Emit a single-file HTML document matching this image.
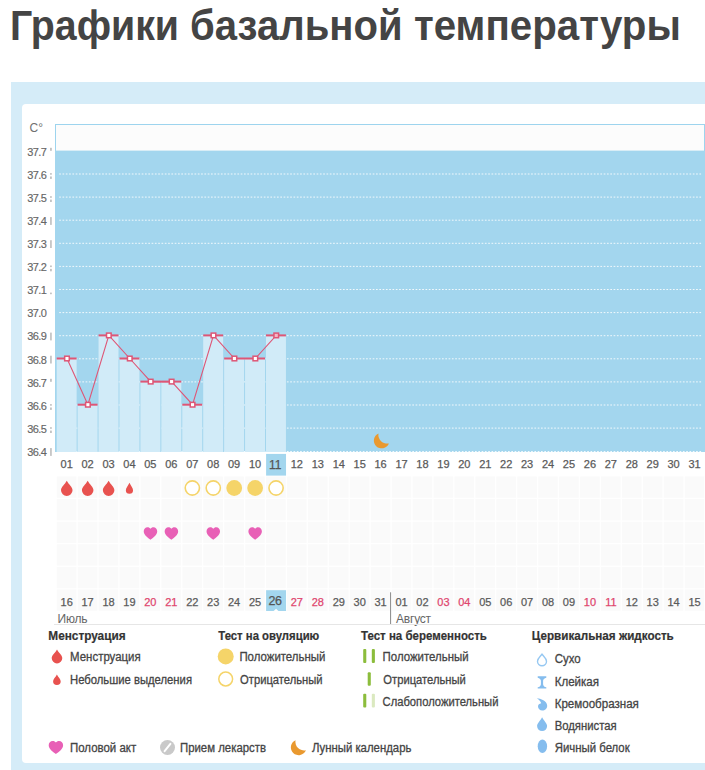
<!DOCTYPE html>
<html lang="ru"><head><meta charset="utf-8"><title>Графики базальной температуры</title>
<style>
html,body{margin:0;padding:0}
body{width:705px;height:770px;overflow:hidden;background:#fff;position:relative;font-family:"Liberation Sans","Noto Sans CJK SC",sans-serif}
h1{position:absolute;left:0;top:0;margin:0;font-size:43px;font-weight:bold;color:#444;white-space:nowrap}
h1 span{position:absolute;top:1px;transform-origin:0 0;line-height:normal}
#outer{position:absolute;left:11px;top:82px;width:720px;height:700px;background:#d5ecf8}
#panel{position:absolute;left:22px;top:104px;width:720px;height:658.6px;background:#fff;border-radius:4px}
svg{position:absolute;left:0;top:0}
svg text{font-family:"Liberation Sans","Noto Sans CJK SC",sans-serif}
</style></head><body>
<h1><span style="left:10.3px;transform:scaleX(0.914)">Графики</span> <span style="left:190.3px;transform:scaleX(0.932)">базальной</span> <span style="left:413.8px;transform:scaleX(0.937)">температуры</span></h1>
<div id="outer"></div>
<div id="panel"></div>
<svg width="705" height="770" viewBox="0 0 705 770">
<rect x="55.5" y="124.5" width="649" height="30" fill="#fcfcfc" stroke="#9dd4ee" stroke-width="1"/>
<rect x="55" y="150.6" width="650" height="301.4" fill="#a3d6ee"/>
<line x1="59.2" y1="174.0" x2="702.5" y2="174.0" stroke="#fff" stroke-opacity="0.85" stroke-width="1" stroke-dasharray="1.7 1.6"/>
<line x1="59.2" y1="197.1" x2="702.5" y2="197.1" stroke="#fff" stroke-opacity="0.85" stroke-width="1" stroke-dasharray="1.7 1.6"/>
<line x1="59.2" y1="220.2" x2="702.5" y2="220.2" stroke="#fff" stroke-opacity="0.85" stroke-width="1" stroke-dasharray="1.7 1.6"/>
<line x1="59.2" y1="243.3" x2="702.5" y2="243.3" stroke="#fff" stroke-opacity="0.85" stroke-width="1" stroke-dasharray="1.7 1.6"/>
<line x1="59.2" y1="266.4" x2="702.5" y2="266.4" stroke="#fff" stroke-opacity="0.85" stroke-width="1" stroke-dasharray="1.7 1.6"/>
<line x1="59.2" y1="289.5" x2="702.5" y2="289.5" stroke="#fff" stroke-opacity="0.85" stroke-width="1" stroke-dasharray="1.7 1.6"/>
<line x1="59.2" y1="312.6" x2="702.5" y2="312.6" stroke="#fff" stroke-opacity="0.85" stroke-width="1" stroke-dasharray="1.7 1.6"/>
<line x1="59.2" y1="335.7" x2="702.5" y2="335.7" stroke="#fff" stroke-opacity="0.85" stroke-width="1" stroke-dasharray="1.7 1.6"/>
<line x1="59.2" y1="358.8" x2="702.5" y2="358.8" stroke="#fff" stroke-opacity="0.85" stroke-width="1" stroke-dasharray="1.7 1.6"/>
<line x1="59.2" y1="381.9" x2="702.5" y2="381.9" stroke="#fff" stroke-opacity="0.85" stroke-width="1" stroke-dasharray="1.7 1.6"/>
<line x1="59.2" y1="405.0" x2="702.5" y2="405.0" stroke="#fff" stroke-opacity="0.85" stroke-width="1" stroke-dasharray="1.7 1.6"/>
<line x1="59.2" y1="428.1" x2="702.5" y2="428.1" stroke="#fff" stroke-opacity="0.85" stroke-width="1" stroke-dasharray="1.7 1.6"/>
<line x1="59.2" y1="451.5" x2="702.5" y2="451.5" stroke="#fff" stroke-opacity="0.85" stroke-width="1" stroke-dasharray="1.7 1.6"/>
<rect x="56.70" y="358.5" width="19.93" height="93.5" fill="#d1ebf8"/>
<rect x="77.63" y="404.7" width="19.93" height="47.3" fill="#d1ebf8"/>
<rect x="98.56" y="335.4" width="19.93" height="116.6" fill="#d1ebf8"/>
<rect x="119.49" y="358.5" width="19.93" height="93.5" fill="#d1ebf8"/>
<rect x="140.42" y="381.6" width="19.93" height="70.4" fill="#d1ebf8"/>
<rect x="161.35" y="381.6" width="19.93" height="70.4" fill="#d1ebf8"/>
<rect x="182.28" y="404.7" width="19.93" height="47.3" fill="#d1ebf8"/>
<rect x="203.21" y="335.4" width="19.93" height="116.6" fill="#d1ebf8"/>
<rect x="224.14" y="358.5" width="19.93" height="93.5" fill="#d1ebf8"/>
<rect x="245.07" y="358.5" width="19.93" height="93.5" fill="#d1ebf8"/>
<rect x="266.00" y="335.4" width="19.93" height="116.6" fill="#d1ebf8"/>
<line x1="56.70" y1="358.5" x2="76.63" y2="358.5" stroke="#de5676" stroke-width="2"/>
<line x1="77.63" y1="404.7" x2="97.56" y2="404.7" stroke="#de5676" stroke-width="2"/>
<line x1="98.56" y1="335.4" x2="118.49" y2="335.4" stroke="#de5676" stroke-width="2"/>
<line x1="119.49" y1="358.5" x2="139.42" y2="358.5" stroke="#de5676" stroke-width="2"/>
<line x1="140.42" y1="381.6" x2="161.35" y2="381.6" stroke="#de5676" stroke-width="2"/>
<line x1="161.35" y1="381.6" x2="181.28" y2="381.6" stroke="#de5676" stroke-width="2"/>
<line x1="182.28" y1="404.7" x2="202.21" y2="404.7" stroke="#de5676" stroke-width="2"/>
<line x1="203.21" y1="335.4" x2="223.14" y2="335.4" stroke="#de5676" stroke-width="2"/>
<line x1="224.14" y1="358.5" x2="245.07" y2="358.5" stroke="#de5676" stroke-width="2"/>
<line x1="245.07" y1="358.5" x2="265.00" y2="358.5" stroke="#de5676" stroke-width="2"/>
<line x1="266.00" y1="335.4" x2="285.93" y2="335.4" stroke="#de5676" stroke-width="2"/>
<polyline points="66.97,358.5 87.89,404.7 108.83,335.4 129.75,358.5 150.69,381.6 171.62,381.6 192.55,404.7 213.48,335.4 234.41,358.5 255.34,358.5 276.26,335.4" fill="none" stroke="#de5676" stroke-width="1.1"/>
<rect x="64.67" y="356.2" width="4.6" height="4.6" fill="#fff" stroke="#de5676" stroke-width="1.5"/>
<rect x="85.59" y="402.4" width="4.6" height="4.6" fill="#fff" stroke="#de5676" stroke-width="1.5"/>
<rect x="106.53" y="333.1" width="4.6" height="4.6" fill="#fff" stroke="#de5676" stroke-width="1.5"/>
<rect x="127.45" y="356.2" width="4.6" height="4.6" fill="#fff" stroke="#de5676" stroke-width="1.5"/>
<rect x="148.38" y="379.3" width="4.6" height="4.6" fill="#fff" stroke="#de5676" stroke-width="1.5"/>
<rect x="169.31" y="379.3" width="4.6" height="4.6" fill="#fff" stroke="#de5676" stroke-width="1.5"/>
<rect x="190.25" y="402.4" width="4.6" height="4.6" fill="#fff" stroke="#de5676" stroke-width="1.5"/>
<rect x="211.18" y="333.1" width="4.6" height="4.6" fill="#fff" stroke="#de5676" stroke-width="1.5"/>
<rect x="232.11" y="356.2" width="4.6" height="4.6" fill="#fff" stroke="#de5676" stroke-width="1.5"/>
<rect x="253.04" y="356.2" width="4.6" height="4.6" fill="#fff" stroke="#de5676" stroke-width="1.5"/>
<rect x="273.96" y="333.1" width="4.6" height="4.6" fill="#f4b8c6" stroke="#de5676" stroke-width="1.5"/>
<path transform="translate(0.00,0.00)" d="M378.5,433.4 A7.8,7.8 0 1 0 388.9,443.4 A8.7,8.7 0 0 1 378.5,433.4 Z" fill="#e9992f"/>
<rect x="56.80" y="476.50" width="19.63" height="21.30" fill="#fafafa"/>
<rect x="77.73" y="476.50" width="19.63" height="21.30" fill="#fafafa"/>
<rect x="98.66" y="476.50" width="19.63" height="21.30" fill="#fafafa"/>
<rect x="119.59" y="476.50" width="19.63" height="21.30" fill="#fafafa"/>
<rect x="140.52" y="476.50" width="19.63" height="21.30" fill="#fafafa"/>
<rect x="161.45" y="476.50" width="19.63" height="21.30" fill="#fafafa"/>
<rect x="182.38" y="476.50" width="19.63" height="21.30" fill="#fafafa"/>
<rect x="203.31" y="476.50" width="19.63" height="21.30" fill="#fafafa"/>
<rect x="224.24" y="476.50" width="19.63" height="21.30" fill="#fafafa"/>
<rect x="245.17" y="476.50" width="19.63" height="21.30" fill="#fafafa"/>
<rect x="266.10" y="476.50" width="19.63" height="21.30" fill="#fafafa"/>
<rect x="287.03" y="476.50" width="19.63" height="21.30" fill="#fafafa"/>
<rect x="307.96" y="476.50" width="19.63" height="21.30" fill="#fafafa"/>
<rect x="328.89" y="476.50" width="19.63" height="21.30" fill="#fafafa"/>
<rect x="349.82" y="476.50" width="19.63" height="21.30" fill="#fafafa"/>
<rect x="370.75" y="476.50" width="19.63" height="21.30" fill="#fafafa"/>
<rect x="391.68" y="476.50" width="19.63" height="21.30" fill="#fafafa"/>
<rect x="412.61" y="476.50" width="19.63" height="21.30" fill="#fafafa"/>
<rect x="433.54" y="476.50" width="19.63" height="21.30" fill="#fafafa"/>
<rect x="454.47" y="476.50" width="19.63" height="21.30" fill="#fafafa"/>
<rect x="475.40" y="476.50" width="19.63" height="21.30" fill="#fafafa"/>
<rect x="496.33" y="476.50" width="19.63" height="21.30" fill="#fafafa"/>
<rect x="517.26" y="476.50" width="19.63" height="21.30" fill="#fafafa"/>
<rect x="538.19" y="476.50" width="19.63" height="21.30" fill="#fafafa"/>
<rect x="559.12" y="476.50" width="19.63" height="21.30" fill="#fafafa"/>
<rect x="580.05" y="476.50" width="19.63" height="21.30" fill="#fafafa"/>
<rect x="600.98" y="476.50" width="19.63" height="21.30" fill="#fafafa"/>
<rect x="621.91" y="476.50" width="19.63" height="21.30" fill="#fafafa"/>
<rect x="642.84" y="476.50" width="19.63" height="21.30" fill="#fafafa"/>
<rect x="663.77" y="476.50" width="19.63" height="21.30" fill="#fafafa"/>
<rect x="684.70" y="476.50" width="19.63" height="21.30" fill="#fafafa"/>
<rect x="56.80" y="499.10" width="19.63" height="21.30" fill="#fafafa"/>
<rect x="77.73" y="499.10" width="19.63" height="21.30" fill="#fafafa"/>
<rect x="98.66" y="499.10" width="19.63" height="21.30" fill="#fafafa"/>
<rect x="119.59" y="499.10" width="19.63" height="21.30" fill="#fafafa"/>
<rect x="140.52" y="499.10" width="19.63" height="21.30" fill="#fafafa"/>
<rect x="161.45" y="499.10" width="19.63" height="21.30" fill="#fafafa"/>
<rect x="182.38" y="499.10" width="19.63" height="21.30" fill="#fafafa"/>
<rect x="203.31" y="499.10" width="19.63" height="21.30" fill="#fafafa"/>
<rect x="224.24" y="499.10" width="19.63" height="21.30" fill="#fafafa"/>
<rect x="245.17" y="499.10" width="19.63" height="21.30" fill="#fafafa"/>
<rect x="266.10" y="499.10" width="19.63" height="21.30" fill="#fafafa"/>
<rect x="287.03" y="499.10" width="19.63" height="21.30" fill="#fafafa"/>
<rect x="307.96" y="499.10" width="19.63" height="21.30" fill="#fafafa"/>
<rect x="328.89" y="499.10" width="19.63" height="21.30" fill="#fafafa"/>
<rect x="349.82" y="499.10" width="19.63" height="21.30" fill="#fafafa"/>
<rect x="370.75" y="499.10" width="19.63" height="21.30" fill="#fafafa"/>
<rect x="391.68" y="499.10" width="19.63" height="21.30" fill="#fafafa"/>
<rect x="412.61" y="499.10" width="19.63" height="21.30" fill="#fafafa"/>
<rect x="433.54" y="499.10" width="19.63" height="21.30" fill="#fafafa"/>
<rect x="454.47" y="499.10" width="19.63" height="21.30" fill="#fafafa"/>
<rect x="475.40" y="499.10" width="19.63" height="21.30" fill="#fafafa"/>
<rect x="496.33" y="499.10" width="19.63" height="21.30" fill="#fafafa"/>
<rect x="517.26" y="499.10" width="19.63" height="21.30" fill="#fafafa"/>
<rect x="538.19" y="499.10" width="19.63" height="21.30" fill="#fafafa"/>
<rect x="559.12" y="499.10" width="19.63" height="21.30" fill="#fafafa"/>
<rect x="580.05" y="499.10" width="19.63" height="21.30" fill="#fafafa"/>
<rect x="600.98" y="499.10" width="19.63" height="21.30" fill="#fafafa"/>
<rect x="621.91" y="499.10" width="19.63" height="21.30" fill="#fafafa"/>
<rect x="642.84" y="499.10" width="19.63" height="21.30" fill="#fafafa"/>
<rect x="663.77" y="499.10" width="19.63" height="21.30" fill="#fafafa"/>
<rect x="684.70" y="499.10" width="19.63" height="21.30" fill="#fafafa"/>
<rect x="56.80" y="521.70" width="19.63" height="21.30" fill="#fafafa"/>
<rect x="77.73" y="521.70" width="19.63" height="21.30" fill="#fafafa"/>
<rect x="98.66" y="521.70" width="19.63" height="21.30" fill="#fafafa"/>
<rect x="119.59" y="521.70" width="19.63" height="21.30" fill="#fafafa"/>
<rect x="140.52" y="521.70" width="19.63" height="21.30" fill="#fafafa"/>
<rect x="161.45" y="521.70" width="19.63" height="21.30" fill="#fafafa"/>
<rect x="182.38" y="521.70" width="19.63" height="21.30" fill="#fafafa"/>
<rect x="203.31" y="521.70" width="19.63" height="21.30" fill="#fafafa"/>
<rect x="224.24" y="521.70" width="19.63" height="21.30" fill="#fafafa"/>
<rect x="245.17" y="521.70" width="19.63" height="21.30" fill="#fafafa"/>
<rect x="266.10" y="521.70" width="19.63" height="21.30" fill="#fafafa"/>
<rect x="287.03" y="521.70" width="19.63" height="21.30" fill="#fafafa"/>
<rect x="307.96" y="521.70" width="19.63" height="21.30" fill="#fafafa"/>
<rect x="328.89" y="521.70" width="19.63" height="21.30" fill="#fafafa"/>
<rect x="349.82" y="521.70" width="19.63" height="21.30" fill="#fafafa"/>
<rect x="370.75" y="521.70" width="19.63" height="21.30" fill="#fafafa"/>
<rect x="391.68" y="521.70" width="19.63" height="21.30" fill="#fafafa"/>
<rect x="412.61" y="521.70" width="19.63" height="21.30" fill="#fafafa"/>
<rect x="433.54" y="521.70" width="19.63" height="21.30" fill="#fafafa"/>
<rect x="454.47" y="521.70" width="19.63" height="21.30" fill="#fafafa"/>
<rect x="475.40" y="521.70" width="19.63" height="21.30" fill="#fafafa"/>
<rect x="496.33" y="521.70" width="19.63" height="21.30" fill="#fafafa"/>
<rect x="517.26" y="521.70" width="19.63" height="21.30" fill="#fafafa"/>
<rect x="538.19" y="521.70" width="19.63" height="21.30" fill="#fafafa"/>
<rect x="559.12" y="521.70" width="19.63" height="21.30" fill="#fafafa"/>
<rect x="580.05" y="521.70" width="19.63" height="21.30" fill="#fafafa"/>
<rect x="600.98" y="521.70" width="19.63" height="21.30" fill="#fafafa"/>
<rect x="621.91" y="521.70" width="19.63" height="21.30" fill="#fafafa"/>
<rect x="642.84" y="521.70" width="19.63" height="21.30" fill="#fafafa"/>
<rect x="663.77" y="521.70" width="19.63" height="21.30" fill="#fafafa"/>
<rect x="684.70" y="521.70" width="19.63" height="21.30" fill="#fafafa"/>
<rect x="56.80" y="544.30" width="19.63" height="21.30" fill="#fafafa"/>
<rect x="77.73" y="544.30" width="19.63" height="21.30" fill="#fafafa"/>
<rect x="98.66" y="544.30" width="19.63" height="21.30" fill="#fafafa"/>
<rect x="119.59" y="544.30" width="19.63" height="21.30" fill="#fafafa"/>
<rect x="140.52" y="544.30" width="19.63" height="21.30" fill="#fafafa"/>
<rect x="161.45" y="544.30" width="19.63" height="21.30" fill="#fafafa"/>
<rect x="182.38" y="544.30" width="19.63" height="21.30" fill="#fafafa"/>
<rect x="203.31" y="544.30" width="19.63" height="21.30" fill="#fafafa"/>
<rect x="224.24" y="544.30" width="19.63" height="21.30" fill="#fafafa"/>
<rect x="245.17" y="544.30" width="19.63" height="21.30" fill="#fafafa"/>
<rect x="266.10" y="544.30" width="19.63" height="21.30" fill="#fafafa"/>
<rect x="287.03" y="544.30" width="19.63" height="21.30" fill="#fafafa"/>
<rect x="307.96" y="544.30" width="19.63" height="21.30" fill="#fafafa"/>
<rect x="328.89" y="544.30" width="19.63" height="21.30" fill="#fafafa"/>
<rect x="349.82" y="544.30" width="19.63" height="21.30" fill="#fafafa"/>
<rect x="370.75" y="544.30" width="19.63" height="21.30" fill="#fafafa"/>
<rect x="391.68" y="544.30" width="19.63" height="21.30" fill="#fafafa"/>
<rect x="412.61" y="544.30" width="19.63" height="21.30" fill="#fafafa"/>
<rect x="433.54" y="544.30" width="19.63" height="21.30" fill="#fafafa"/>
<rect x="454.47" y="544.30" width="19.63" height="21.30" fill="#fafafa"/>
<rect x="475.40" y="544.30" width="19.63" height="21.30" fill="#fafafa"/>
<rect x="496.33" y="544.30" width="19.63" height="21.30" fill="#fafafa"/>
<rect x="517.26" y="544.30" width="19.63" height="21.30" fill="#fafafa"/>
<rect x="538.19" y="544.30" width="19.63" height="21.30" fill="#fafafa"/>
<rect x="559.12" y="544.30" width="19.63" height="21.30" fill="#fafafa"/>
<rect x="580.05" y="544.30" width="19.63" height="21.30" fill="#fafafa"/>
<rect x="600.98" y="544.30" width="19.63" height="21.30" fill="#fafafa"/>
<rect x="621.91" y="544.30" width="19.63" height="21.30" fill="#fafafa"/>
<rect x="642.84" y="544.30" width="19.63" height="21.30" fill="#fafafa"/>
<rect x="663.77" y="544.30" width="19.63" height="21.30" fill="#fafafa"/>
<rect x="684.70" y="544.30" width="19.63" height="21.30" fill="#fafafa"/>
<rect x="56.80" y="566.90" width="19.63" height="21.30" fill="#fafafa"/>
<rect x="77.73" y="566.90" width="19.63" height="21.30" fill="#fafafa"/>
<rect x="98.66" y="566.90" width="19.63" height="21.30" fill="#fafafa"/>
<rect x="119.59" y="566.90" width="19.63" height="21.30" fill="#fafafa"/>
<rect x="140.52" y="566.90" width="19.63" height="21.30" fill="#fafafa"/>
<rect x="161.45" y="566.90" width="19.63" height="21.30" fill="#fafafa"/>
<rect x="182.38" y="566.90" width="19.63" height="21.30" fill="#fafafa"/>
<rect x="203.31" y="566.90" width="19.63" height="21.30" fill="#fafafa"/>
<rect x="224.24" y="566.90" width="19.63" height="21.30" fill="#fafafa"/>
<rect x="245.17" y="566.90" width="19.63" height="21.30" fill="#fafafa"/>
<rect x="266.10" y="566.90" width="19.63" height="21.30" fill="#fafafa"/>
<rect x="287.03" y="566.90" width="19.63" height="21.30" fill="#fafafa"/>
<rect x="307.96" y="566.90" width="19.63" height="21.30" fill="#fafafa"/>
<rect x="328.89" y="566.90" width="19.63" height="21.30" fill="#fafafa"/>
<rect x="349.82" y="566.90" width="19.63" height="21.30" fill="#fafafa"/>
<rect x="370.75" y="566.90" width="19.63" height="21.30" fill="#fafafa"/>
<rect x="391.68" y="566.90" width="19.63" height="21.30" fill="#fafafa"/>
<rect x="412.61" y="566.90" width="19.63" height="21.30" fill="#fafafa"/>
<rect x="433.54" y="566.90" width="19.63" height="21.30" fill="#fafafa"/>
<rect x="454.47" y="566.90" width="19.63" height="21.30" fill="#fafafa"/>
<rect x="475.40" y="566.90" width="19.63" height="21.30" fill="#fafafa"/>
<rect x="496.33" y="566.90" width="19.63" height="21.30" fill="#fafafa"/>
<rect x="517.26" y="566.90" width="19.63" height="21.30" fill="#fafafa"/>
<rect x="538.19" y="566.90" width="19.63" height="21.30" fill="#fafafa"/>
<rect x="559.12" y="566.90" width="19.63" height="21.30" fill="#fafafa"/>
<rect x="580.05" y="566.90" width="19.63" height="21.30" fill="#fafafa"/>
<rect x="600.98" y="566.90" width="19.63" height="21.30" fill="#fafafa"/>
<rect x="621.91" y="566.90" width="19.63" height="21.30" fill="#fafafa"/>
<rect x="642.84" y="566.90" width="19.63" height="21.30" fill="#fafafa"/>
<rect x="663.77" y="566.90" width="19.63" height="21.30" fill="#fafafa"/>
<rect x="684.70" y="566.90" width="19.63" height="21.30" fill="#fafafa"/>
<rect x="56.80" y="589.50" width="19.63" height="21.30" fill="#fafafa"/>
<rect x="77.73" y="589.50" width="19.63" height="21.30" fill="#fafafa"/>
<rect x="98.66" y="589.50" width="19.63" height="21.30" fill="#fafafa"/>
<rect x="119.59" y="589.50" width="19.63" height="21.30" fill="#fafafa"/>
<rect x="140.52" y="589.50" width="19.63" height="21.30" fill="#fafafa"/>
<rect x="161.45" y="589.50" width="19.63" height="21.30" fill="#fafafa"/>
<rect x="182.38" y="589.50" width="19.63" height="21.30" fill="#fafafa"/>
<rect x="203.31" y="589.50" width="19.63" height="21.30" fill="#fafafa"/>
<rect x="224.24" y="589.50" width="19.63" height="21.30" fill="#fafafa"/>
<rect x="245.17" y="589.50" width="19.63" height="21.30" fill="#fafafa"/>
<rect x="266.10" y="589.50" width="19.63" height="21.30" fill="#fafafa"/>
<rect x="287.03" y="589.50" width="19.63" height="21.30" fill="#fafafa"/>
<rect x="307.96" y="589.50" width="19.63" height="21.30" fill="#fafafa"/>
<rect x="328.89" y="589.50" width="19.63" height="21.30" fill="#fafafa"/>
<rect x="349.82" y="589.50" width="19.63" height="21.30" fill="#fafafa"/>
<rect x="370.75" y="589.50" width="19.63" height="21.30" fill="#fafafa"/>
<rect x="391.68" y="589.50" width="19.63" height="21.30" fill="#fafafa"/>
<rect x="412.61" y="589.50" width="19.63" height="21.30" fill="#fafafa"/>
<rect x="433.54" y="589.50" width="19.63" height="21.30" fill="#fafafa"/>
<rect x="454.47" y="589.50" width="19.63" height="21.30" fill="#fafafa"/>
<rect x="475.40" y="589.50" width="19.63" height="21.30" fill="#fafafa"/>
<rect x="496.33" y="589.50" width="19.63" height="21.30" fill="#fafafa"/>
<rect x="517.26" y="589.50" width="19.63" height="21.30" fill="#fafafa"/>
<rect x="538.19" y="589.50" width="19.63" height="21.30" fill="#fafafa"/>
<rect x="559.12" y="589.50" width="19.63" height="21.30" fill="#fafafa"/>
<rect x="580.05" y="589.50" width="19.63" height="21.30" fill="#fafafa"/>
<rect x="600.98" y="589.50" width="19.63" height="21.30" fill="#fafafa"/>
<rect x="621.91" y="589.50" width="19.63" height="21.30" fill="#fafafa"/>
<rect x="642.84" y="589.50" width="19.63" height="21.30" fill="#fafafa"/>
<rect x="663.77" y="589.50" width="19.63" height="21.30" fill="#fafafa"/>
<rect x="684.70" y="589.50" width="19.63" height="21.30" fill="#fafafa"/>
<rect x="266.10" y="453.90" width="19.93" height="21.7" fill="#a3d6ee"/>
<rect x="266.10" y="590.2" width="19.93" height="20.8" fill="#a3d6ee"/>
<path d="M273.66,611.1 L276.06,608.8 L278.46,611.1 Z" fill="#fff"/>
<text x="66.67" y="468.1" font-size="11" fill="#5a5a5a" stroke="#5a5a5a" stroke-width="0.25" text-anchor="middle">01</text>
<text x="87.59" y="468.1" font-size="11" fill="#5a5a5a" stroke="#5a5a5a" stroke-width="0.25" text-anchor="middle">02</text>
<text x="108.53" y="468.1" font-size="11" fill="#5a5a5a" stroke="#5a5a5a" stroke-width="0.25" text-anchor="middle">03</text>
<text x="129.45" y="468.1" font-size="11" fill="#5a5a5a" stroke="#5a5a5a" stroke-width="0.25" text-anchor="middle">04</text>
<text x="150.38" y="468.1" font-size="11" fill="#5a5a5a" stroke="#5a5a5a" stroke-width="0.25" text-anchor="middle">05</text>
<text x="171.31" y="468.1" font-size="11" fill="#5a5a5a" stroke="#5a5a5a" stroke-width="0.25" text-anchor="middle">06</text>
<text x="192.25" y="468.1" font-size="11" fill="#5a5a5a" stroke="#5a5a5a" stroke-width="0.25" text-anchor="middle">07</text>
<text x="213.18" y="468.1" font-size="11" fill="#5a5a5a" stroke="#5a5a5a" stroke-width="0.25" text-anchor="middle">08</text>
<text x="234.11" y="468.1" font-size="11" fill="#5a5a5a" stroke="#5a5a5a" stroke-width="0.25" text-anchor="middle">09</text>
<text x="255.04" y="468.1" font-size="11" fill="#5a5a5a" stroke="#5a5a5a" stroke-width="0.25" text-anchor="middle">10</text>
<text x="275.26" y="469.3" font-size="12" fill="#555" stroke="#555" stroke-width="0.25" text-anchor="middle">11</text>
<text x="296.89" y="468.1" font-size="11" fill="#5a5a5a" stroke="#5a5a5a" stroke-width="0.25" text-anchor="middle">12</text>
<text x="317.82" y="468.1" font-size="11" fill="#5a5a5a" stroke="#5a5a5a" stroke-width="0.25" text-anchor="middle">13</text>
<text x="338.75" y="468.1" font-size="11" fill="#5a5a5a" stroke="#5a5a5a" stroke-width="0.25" text-anchor="middle">14</text>
<text x="359.69" y="468.1" font-size="11" fill="#5a5a5a" stroke="#5a5a5a" stroke-width="0.25" text-anchor="middle">15</text>
<text x="380.62" y="468.1" font-size="11" fill="#5a5a5a" stroke="#5a5a5a" stroke-width="0.25" text-anchor="middle">16</text>
<text x="401.54" y="468.1" font-size="11" fill="#5a5a5a" stroke="#5a5a5a" stroke-width="0.25" text-anchor="middle">17</text>
<text x="422.47" y="468.1" font-size="11" fill="#5a5a5a" stroke="#5a5a5a" stroke-width="0.25" text-anchor="middle">18</text>
<text x="443.40" y="468.1" font-size="11" fill="#5a5a5a" stroke="#5a5a5a" stroke-width="0.25" text-anchor="middle">19</text>
<text x="464.33" y="468.1" font-size="11" fill="#5a5a5a" stroke="#5a5a5a" stroke-width="0.25" text-anchor="middle">20</text>
<text x="485.26" y="468.1" font-size="11" fill="#5a5a5a" stroke="#5a5a5a" stroke-width="0.25" text-anchor="middle">21</text>
<text x="506.19" y="468.1" font-size="11" fill="#5a5a5a" stroke="#5a5a5a" stroke-width="0.25" text-anchor="middle">22</text>
<text x="527.12" y="468.1" font-size="11" fill="#5a5a5a" stroke="#5a5a5a" stroke-width="0.25" text-anchor="middle">23</text>
<text x="548.06" y="468.1" font-size="11" fill="#5a5a5a" stroke="#5a5a5a" stroke-width="0.25" text-anchor="middle">24</text>
<text x="568.99" y="468.1" font-size="11" fill="#5a5a5a" stroke="#5a5a5a" stroke-width="0.25" text-anchor="middle">25</text>
<text x="589.92" y="468.1" font-size="11" fill="#5a5a5a" stroke="#5a5a5a" stroke-width="0.25" text-anchor="middle">26</text>
<text x="610.85" y="468.1" font-size="11" fill="#5a5a5a" stroke="#5a5a5a" stroke-width="0.25" text-anchor="middle">27</text>
<text x="631.78" y="468.1" font-size="11" fill="#5a5a5a" stroke="#5a5a5a" stroke-width="0.25" text-anchor="middle">28</text>
<text x="652.71" y="468.1" font-size="11" fill="#5a5a5a" stroke="#5a5a5a" stroke-width="0.25" text-anchor="middle">29</text>
<text x="673.63" y="468.1" font-size="11" fill="#5a5a5a" stroke="#5a5a5a" stroke-width="0.25" text-anchor="middle">30</text>
<text x="694.57" y="468.1" font-size="11" fill="#5a5a5a" stroke="#5a5a5a" stroke-width="0.25" text-anchor="middle">31</text>
<text x="66.67" y="605.6" font-size="11" fill="#5a5a5a" stroke="#5a5a5a" stroke-width="0.25" text-anchor="middle">16</text>
<text x="87.59" y="605.6" font-size="11" fill="#5a5a5a" stroke="#5a5a5a" stroke-width="0.25" text-anchor="middle">17</text>
<text x="108.53" y="605.6" font-size="11" fill="#5a5a5a" stroke="#5a5a5a" stroke-width="0.25" text-anchor="middle">18</text>
<text x="129.45" y="605.6" font-size="11" fill="#5a5a5a" stroke="#5a5a5a" stroke-width="0.25" text-anchor="middle">19</text>
<text x="150.38" y="605.6" font-size="11" fill="#e0466e" stroke="#e0466e" stroke-width="0.25" text-anchor="middle">20</text>
<text x="171.31" y="605.6" font-size="11" fill="#e0466e" stroke="#e0466e" stroke-width="0.25" text-anchor="middle">21</text>
<text x="192.25" y="605.6" font-size="11" fill="#5a5a5a" stroke="#5a5a5a" stroke-width="0.25" text-anchor="middle">22</text>
<text x="213.18" y="605.6" font-size="11" fill="#5a5a5a" stroke="#5a5a5a" stroke-width="0.25" text-anchor="middle">23</text>
<text x="234.11" y="605.6" font-size="11" fill="#5a5a5a" stroke="#5a5a5a" stroke-width="0.25" text-anchor="middle">24</text>
<text x="255.04" y="605.6" font-size="11" fill="#5a5a5a" stroke="#5a5a5a" stroke-width="0.25" text-anchor="middle">25</text>
<text x="274.96" y="604.6" font-size="12.5" fill="#555" stroke="#555" stroke-width="0.25" letter-spacing="-0.5" text-anchor="middle">26</text>
<text x="296.89" y="605.6" font-size="11" fill="#e0466e" stroke="#e0466e" stroke-width="0.25" text-anchor="middle">27</text>
<text x="317.82" y="605.6" font-size="11" fill="#e0466e" stroke="#e0466e" stroke-width="0.25" text-anchor="middle">28</text>
<text x="338.75" y="605.6" font-size="11" fill="#5a5a5a" stroke="#5a5a5a" stroke-width="0.25" text-anchor="middle">29</text>
<text x="359.69" y="605.6" font-size="11" fill="#5a5a5a" stroke="#5a5a5a" stroke-width="0.25" text-anchor="middle">30</text>
<text x="380.62" y="605.6" font-size="11" fill="#5a5a5a" stroke="#5a5a5a" stroke-width="0.25" text-anchor="middle">31</text>
<text x="401.54" y="605.6" font-size="11" fill="#5a5a5a" stroke="#5a5a5a" stroke-width="0.25" text-anchor="middle">01</text>
<text x="422.47" y="605.6" font-size="11" fill="#5a5a5a" stroke="#5a5a5a" stroke-width="0.25" text-anchor="middle">02</text>
<text x="443.40" y="605.6" font-size="11" fill="#e0466e" stroke="#e0466e" stroke-width="0.25" text-anchor="middle">03</text>
<text x="464.33" y="605.6" font-size="11" fill="#e0466e" stroke="#e0466e" stroke-width="0.25" text-anchor="middle">04</text>
<text x="485.26" y="605.6" font-size="11" fill="#5a5a5a" stroke="#5a5a5a" stroke-width="0.25" text-anchor="middle">05</text>
<text x="506.19" y="605.6" font-size="11" fill="#5a5a5a" stroke="#5a5a5a" stroke-width="0.25" text-anchor="middle">06</text>
<text x="527.12" y="605.6" font-size="11" fill="#5a5a5a" stroke="#5a5a5a" stroke-width="0.25" text-anchor="middle">07</text>
<text x="548.06" y="605.6" font-size="11" fill="#5a5a5a" stroke="#5a5a5a" stroke-width="0.25" text-anchor="middle">08</text>
<text x="568.99" y="605.6" font-size="11" fill="#5a5a5a" stroke="#5a5a5a" stroke-width="0.25" text-anchor="middle">09</text>
<text x="589.92" y="605.6" font-size="11" fill="#e0466e" stroke="#e0466e" stroke-width="0.25" text-anchor="middle">10</text>
<text x="610.85" y="605.6" font-size="11" fill="#e0466e" stroke="#e0466e" stroke-width="0.25" text-anchor="middle">11</text>
<text x="631.78" y="605.6" font-size="11" fill="#5a5a5a" stroke="#5a5a5a" stroke-width="0.25" text-anchor="middle">12</text>
<text x="652.71" y="605.6" font-size="11" fill="#5a5a5a" stroke="#5a5a5a" stroke-width="0.25" text-anchor="middle">13</text>
<text x="673.63" y="605.6" font-size="11" fill="#5a5a5a" stroke="#5a5a5a" stroke-width="0.25" text-anchor="middle">14</text>
<text x="694.57" y="605.6" font-size="11" fill="#5a5a5a" stroke="#5a5a5a" stroke-width="0.25" text-anchor="middle">15</text>
<line x1="390.6" y1="592.3" x2="390.6" y2="624" stroke="#888" stroke-width="1"/>
<text x="57.5" y="622.7" font-size="12" fill="#666" letter-spacing="-0.2">Июль</text>
<text x="396" y="623.3" font-size="12" fill="#666" letter-spacing="-0.2">Август</text>
<line x1="54" y1="624.5" x2="705" y2="624.5" stroke="#e6e6e6" stroke-width="1"/>
<text x="27.3" y="155.6" font-size="11" fill="#666" stroke="#666" stroke-width="0.15" letter-spacing="-0.6">37.7</text>
<rect x="50.3" y="147.8" width="1.3" height="3" fill="#aaa"/>
<text x="27.3" y="178.7" font-size="11" fill="#666" stroke="#666" stroke-width="0.15" letter-spacing="-0.6">37.6</text>
<rect x="50.3" y="173.1" width="1.3" height="1.6" fill="#aaa"/>
<rect x="50.3" y="176.5" width="1.3" height="2.4" fill="#aaa"/>
<text x="27.3" y="201.8" font-size="11" fill="#666" stroke="#666" stroke-width="0.15" letter-spacing="-0.6">37.5</text>
<rect x="50.3" y="196.2" width="1.3" height="1.6" fill="#aaa"/>
<rect x="50.3" y="199.6" width="1.3" height="2.4" fill="#aaa"/>
<text x="27.3" y="224.9" font-size="11" fill="#666" stroke="#666" stroke-width="0.15" letter-spacing="-0.6">37.4</text>
<rect x="50.3" y="217.1" width="1.3" height="7.8" fill="#b0b0b0"/>
<text x="27.3" y="248.0" font-size="11" fill="#666" stroke="#666" stroke-width="0.15" letter-spacing="-0.6">37.3</text>
<rect x="50.3" y="240.2" width="1.3" height="7.8" fill="#b0b0b0"/>
<text x="27.3" y="271.1" font-size="11" fill="#666" stroke="#666" stroke-width="0.15" letter-spacing="-0.6">37.2</text>
<rect x="50.3" y="265.5" width="1.3" height="1.6" fill="#aaa"/>
<rect x="50.3" y="268.9" width="1.3" height="2.4" fill="#aaa"/>
<text x="27.3" y="294.2" font-size="11" fill="#666" stroke="#666" stroke-width="0.15" letter-spacing="-0.6">37.1</text>
<rect x="50.3" y="292.6" width="1.3" height="1.6" fill="#aaa"/>
<text x="27.3" y="317.3" font-size="11" fill="#666" stroke="#666" stroke-width="0.15" letter-spacing="-0.6">37.0</text>
<text x="27.3" y="340.4" font-size="11" fill="#666" stroke="#666" stroke-width="0.15" letter-spacing="-0.6">36.9</text>
<rect x="50.3" y="332.6" width="1.3" height="7.8" fill="#b0b0b0"/>
<text x="27.3" y="363.5" font-size="11" fill="#666" stroke="#666" stroke-width="0.15" letter-spacing="-0.6">36.8</text>
<rect x="50.3" y="355.7" width="1.3" height="7.8" fill="#b0b0b0"/>
<text x="27.3" y="386.6" font-size="11" fill="#666" stroke="#666" stroke-width="0.15" letter-spacing="-0.6">36.7</text>
<rect x="50.3" y="378.8" width="1.3" height="3" fill="#aaa"/>
<text x="27.3" y="409.7" font-size="11" fill="#666" stroke="#666" stroke-width="0.15" letter-spacing="-0.6">36.6</text>
<rect x="50.3" y="404.1" width="1.3" height="1.6" fill="#aaa"/>
<rect x="50.3" y="407.5" width="1.3" height="2.4" fill="#aaa"/>
<text x="27.3" y="432.8" font-size="11" fill="#666" stroke="#666" stroke-width="0.15" letter-spacing="-0.6">36.5</text>
<rect x="50.3" y="427.2" width="1.3" height="1.6" fill="#aaa"/>
<rect x="50.3" y="430.6" width="1.3" height="2.4" fill="#aaa"/>
<text x="27.3" y="455.9" font-size="11" fill="#666" stroke="#666" stroke-width="0.15" letter-spacing="-0.6">36.4</text>
<rect x="50.3" y="448.1" width="1.3" height="7.8" fill="#b0b0b0"/>
<text x="29.5" y="131.7" font-size="12" fill="#707070">C°</text>
<path d="M66.77,480.70 C68.78,484.50 72.52,486.99 72.52,490.15 A5.75,5.75 0 0 1 61.02,490.15 C61.02,486.99 64.75,484.50 66.77,480.70 Z" fill="#e8524f"/>
<path d="M87.69,480.70 C89.71,484.50 93.44,486.99 93.44,490.15 A5.75,5.75 0 0 1 81.94,490.15 C81.94,486.99 85.68,484.50 87.69,480.70 Z" fill="#e8524f"/>
<path d="M108.62,480.70 C110.64,484.50 114.38,486.99 114.38,490.15 A5.75,5.75 0 0 1 102.88,490.15 C102.88,486.99 106.61,484.50 108.62,480.70 Z" fill="#e8524f"/>
<path d="M129.45,482.80 C130.71,485.55 133.05,488.22 133.05,490.20 A3.60,3.60 0 0 1 125.85,490.20 C125.85,488.22 128.19,485.55 129.45,482.80 Z" fill="#e8524f"/>
<circle cx="192.34" cy="488" r="7.1" fill="#fff" stroke="#f5d469" stroke-width="1.6"/>
<circle cx="213.28" cy="488" r="7.1" fill="#fff" stroke="#f5d469" stroke-width="1.6"/>
<circle cx="276.06" cy="488" r="7.1" fill="#fff" stroke="#f5d469" stroke-width="1.6"/>
<circle cx="234.21" cy="488" r="7.9" fill="#f5d469"/>
<circle cx="255.14" cy="488" r="7.9" fill="#f5d469"/>
<path transform="translate(143.73,527.30) scale(0.964,0.992)" d="M7,12.6 C4.6,10.9 0,8.1 0,4.1 C0,1.7 1.7,0 3.9,0 C5.3,0 6.4,0.6 7,1.5 C7.6,0.6 8.7,0 10.1,0 C12.3,0 14,1.7 14,4.1 C14,8.1 9.4,10.9 7,12.6 Z" fill="#e860b6"/>
<path transform="translate(164.66,527.30) scale(0.964,0.992)" d="M7,12.6 C4.6,10.9 0,8.1 0,4.1 C0,1.7 1.7,0 3.9,0 C5.3,0 6.4,0.6 7,1.5 C7.6,0.6 8.7,0 10.1,0 C12.3,0 14,1.7 14,4.1 C14,8.1 9.4,10.9 7,12.6 Z" fill="#e860b6"/>
<path transform="translate(206.53,527.30) scale(0.964,0.992)" d="M7,12.6 C4.6,10.9 0,8.1 0,4.1 C0,1.7 1.7,0 3.9,0 C5.3,0 6.4,0.6 7,1.5 C7.6,0.6 8.7,0 10.1,0 C12.3,0 14,1.7 14,4.1 C14,8.1 9.4,10.9 7,12.6 Z" fill="#e860b6"/>
<path transform="translate(248.39,527.30) scale(0.964,0.992)" d="M7,12.6 C4.6,10.9 0,8.1 0,4.1 C0,1.7 1.7,0 3.9,0 C5.3,0 6.4,0.6 7,1.5 C7.6,0.6 8.7,0 10.1,0 C12.3,0 14,1.7 14,4.1 C14,8.1 9.4,10.9 7,12.6 Z" fill="#e860b6"/>
<text x="48.30" y="639.8" font-size="12.5" font-weight="bold" fill="#333" stroke="#333" stroke-width="0.2" textLength="77.3" lengthAdjust="spacingAndGlyphs">Менструация</text>
<text x="218.30" y="639.8" font-size="12.5" font-weight="bold" fill="#333" stroke="#333" stroke-width="0.2" textLength="101.0" lengthAdjust="spacingAndGlyphs">Тест на овуляцию</text>
<text x="361.00" y="639.8" font-size="12.5" font-weight="bold" fill="#333" stroke="#333" stroke-width="0.2" textLength="125.9" lengthAdjust="spacingAndGlyphs">Тест на беременность</text>
<text x="531.80" y="639.8" font-size="12.5" font-weight="bold" fill="#333" stroke="#333" stroke-width="0.2" textLength="142.0" lengthAdjust="spacingAndGlyphs">Цервикальная жидкость</text>
<path d="M57.00,649.40 C58.85,652.90 62.30,655.19 62.30,658.10 A5.30,5.30 0 0 1 51.70,658.10 C51.70,655.19 55.15,652.90 57.00,649.40 Z" fill="#e8524f"/>
<text x="70.10" y="660.8" font-size="12.5" font-weight="normal" fill="#444" stroke="#444" stroke-width="0.3" textLength="70.6" lengthAdjust="spacingAndGlyphs">Менструация</text>
<path d="M56.90,674.40 C58.23,677.05 60.70,679.11 60.70,681.20 A3.80,3.80 0 0 1 53.10,681.20 C53.10,679.11 55.57,677.05 56.90,674.40 Z" fill="#e8524f"/>
<text x="70.00" y="683.7" font-size="12.5" font-weight="normal" fill="#444" stroke="#444" stroke-width="0.3" textLength="122.0" lengthAdjust="spacingAndGlyphs">Небольшие выделения</text>
<circle cx="225.7" cy="656.4" r="8" fill="#f5d469"/>
<text x="239.40" y="660.8" font-size="12.5" font-weight="normal" fill="#444" stroke="#444" stroke-width="0.3" textLength="86.0" lengthAdjust="spacingAndGlyphs">Положительный</text>
<circle cx="225.7" cy="679" r="6.9" fill="#fff" stroke="#f5d469" stroke-width="1.5"/>
<text x="240.10" y="683.7" font-size="12.5" font-weight="normal" fill="#444" stroke="#444" stroke-width="0.3" textLength="82.5" lengthAdjust="spacingAndGlyphs">Отрицательный</text>
<rect x="363.2" y="649" width="3.1" height="14" rx="1" fill="#8cbd3c"/>
<rect x="371.8" y="649" width="3.1" height="14" rx="1" fill="#8cbd3c"/>
<text x="382.60" y="660.8" font-size="12.5" font-weight="normal" fill="#444" stroke="#444" stroke-width="0.3" textLength="86.0" lengthAdjust="spacingAndGlyphs">Положительный</text>
<rect x="367.7" y="672.2" width="3.1" height="13.6" rx="1" fill="#8cbd3c"/>
<text x="383.30" y="683.7" font-size="12.5" font-weight="normal" fill="#444" stroke="#444" stroke-width="0.3" textLength="82.5" lengthAdjust="spacingAndGlyphs">Отрицательный</text>
<rect x="363.2" y="693.8" width="3.1" height="13.6" rx="1" fill="#8cbd3c"/>
<rect x="371.8" y="693.8" width="3.1" height="13.6" rx="1" fill="#dbe9c0"/>
<text x="382.60" y="705.6" font-size="12.5" font-weight="normal" fill="#444" stroke="#444" stroke-width="0.3" textLength="115.8" lengthAdjust="spacingAndGlyphs">Слабоположительный</text>
<path d="M542,654.2 C543.6,656.5 546.5,658.4 546.5,661.2 A4.5,4.5 0 0 1 537.5,661.2 C537.5,658.4 540.4,656.5 542,654.2 Z" fill="#fff" stroke="#96c8f2" stroke-width="1.4"/>
<text x="554.70" y="663.0" font-size="12.5" font-weight="normal" fill="#444" stroke="#444" stroke-width="0.3" textLength="26.0" lengthAdjust="spacingAndGlyphs">Сухо</text>
<path d="M537.7,676.3 H546.3 V677.7 C544.3,678.2 543.2,679.2 543.1,680.8 V684.2 C543.2,685.8 544.3,686.8 546.3,687.3 V688.6 H537.7 V687.3 C539.7,686.8 540.8,685.8 540.9,684.2 V680.8 C540.8,679.2 539.7,678.2 537.7,677.7 Z" fill="#85bdee"/>
<text x="554.70" y="686.3" font-size="12.5" font-weight="normal" fill="#444" stroke="#444" stroke-width="0.3" textLength="44.3" lengthAdjust="spacingAndGlyphs">Клейкая</text>
<path d="M536.8,698.3 C540.5,698.6 547.2,701 547.2,705.8 C547.2,708.6 545,710.6 542.3,710.6 C539.8,710.6 538,708.7 538,706.3 C538,704.7 539.3,703.5 541.2,703.2 C540.6,701.3 538.8,699.5 536.8,698.3 Z" fill="#85bdee"/>
<text x="554.70" y="708.0" font-size="12.5" font-weight="normal" fill="#444" stroke="#444" stroke-width="0.3" textLength="84.2" lengthAdjust="spacingAndGlyphs">Кремообразная</text>
<path d="M542.10,717.30 C543.85,720.75 547.10,723.35 547.10,726.10 A5.00,5.00 0 0 1 537.10,726.10 C537.10,723.35 540.35,720.75 542.10,717.30 Z" fill="#85bdee"/>
<text x="554.70" y="729.7" font-size="12.5" font-weight="normal" fill="#444" stroke="#444" stroke-width="0.3" textLength="62.0" lengthAdjust="spacingAndGlyphs">Водянистая</text>
<ellipse cx="542.4" cy="746.2" rx="4.7" ry="6.8" fill="#85bdee"/>
<text x="554.70" y="751.6" font-size="12.5" font-weight="normal" fill="#444" stroke="#444" stroke-width="0.3" textLength="75.0" lengthAdjust="spacingAndGlyphs">Яичный белок</text>
<path transform="translate(48.70,741.00) scale(1.029,1.024)" d="M7,12.6 C4.6,10.9 0,8.1 0,4.1 C0,1.7 1.7,0 3.9,0 C5.3,0 6.4,0.6 7,1.5 C7.6,0.6 8.7,0 10.1,0 C12.3,0 14,1.7 14,4.1 C14,8.1 9.4,10.9 7,12.6 Z" fill="#e860b6"/>
<text x="70.00" y="751.8" font-size="12.5" font-weight="normal" fill="#444" stroke="#444" stroke-width="0.3" textLength="66.2" lengthAdjust="spacingAndGlyphs">Половой акт</text>
<circle cx="167.5" cy="747.5" r="7.5" fill="#c9c9c9"/>
<line x1="164.6" y1="751.2" x2="170.4" y2="743.8" stroke="#fff" stroke-width="2" stroke-linecap="round"/>
<text x="180.00" y="751.8" font-size="12.5" font-weight="normal" fill="#444" stroke="#444" stroke-width="0.3" textLength="86.0" lengthAdjust="spacingAndGlyphs">Прием лекарств</text>
<path transform="translate(-83.00,306.80)" d="M378.5,433.4 A7.8,7.8 0 1 0 388.9,443.4 A8.7,8.7 0 0 1 378.5,433.4 Z" fill="#e9992f"/>
<text x="311.90" y="751.8" font-size="12.5" font-weight="normal" fill="#444" stroke="#444" stroke-width="0.3" textLength="99.5" lengthAdjust="spacingAndGlyphs">Лунный календарь</text>
</svg>
</body></html>
